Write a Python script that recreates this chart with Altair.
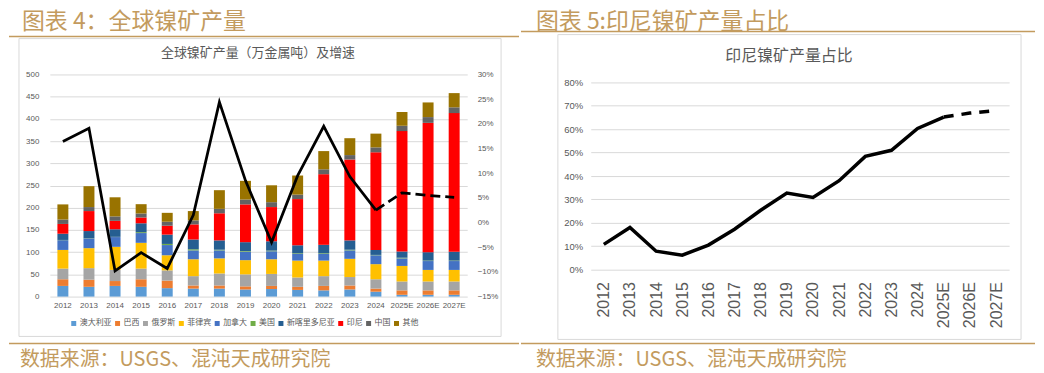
import altair as alt
import pandas as pd

years = ["2012", "2013", "2014", "2015", "2016", "2017", "2018", "2019",
         "2020", "2021", "2022", "2023", "2024", "2025E", "2026E", "2027E"]
countries = ["澳大利亚", "巴西", "俄罗斯", "菲律宾", "加拿大", "美国",
             "新喀里多尼亚", "印尼", "中国", "其他"]
colors = ["#5B9BD5", "#ED7D31", "#A5A5A5", "#FFC000", "#4472C4", "#70AD47",
          "#255E91", "#FF0000", "#636363", "#997300"]

australia = [24, 22, 24, 22, 19, 18, 18, 16, 17, 15, 14, 16, 11, 4, 4, 4]
brazil = [15, 16, 11, 17, 17, 7, 7, 7, 7, 7, 10, 9, 7, 10, 10, 10]
russia = [24, 26, 25, 24, 23, 21, 27, 27, 27, 21, 22, 19, 21, 20, 20, 20]
philippines = [42, 45, 52, 58, 34, 38, 34, 32, 33, 38, 35, 41, 34, 35, 26, 26]
canada = [22, 22, 22, 22, 23, 20, 18, 19, 18, 15, 15, 19, 20, 17, 20, 20]
usa = [0.5, 0.5, 0.5, 2, 2.5, 2.5, 1.5, 1.5, 1.5, 1.5, 1.5, 1.5, 0.8, 1.5, 1, 1]
new_caledonia = [14, 16, 17, 20, 21, 22, 21, 20, 21, 18, 19, 21, 11, 14, 19, 20]
indonesia = [22, 45, 19, 13, 20, 34, 61, 85, 77, 104, 159, 182, 220, 271, 291, 312]
china = [10, 9, 10, 9, 9, 9, 10, 11, 11, 10, 11, 10, 11, 12, 13, 13]
others = [34, 47, 43, 21, 20, 21, 42, 42, 38, 43, 41, 38, 31, 31, 33, 32]

growth_pct = [16.4, 19.1, -9.8, -6.1, -9.3, 1.5, 24.4, 8.5, -4.0, 9.5, 19.5,
              9.3, 2.5, 6.0, 5.5, 5.1]
share_pct = [10.8, 18.0, 7.9, 6.2, 10.5, 17.3, 25.4, 32.7, 30.9, 38.0, 48.4,
             51.0, 60.3, 65.2, 66.9, 68.0]

growth_ticks = [-15, -10, -5, 0, 5, 10, 15, 20, 25, 30]
left_ticks = [0, 50, 100, 150, 200, 250, 300, 350, 400, 450, 500]
share_ticks = [0, 10, 20, 30, 40, 50, 60, 70, 80]

heading_left = "图表 4：全球镍矿产量"
heading_right = "图表 5:印尼镍矿产量占比"
inner_left = "全球镍矿产量（万金属吨）及增速"
inner_right = "印尼镍矿产量占比"
source = "数据来源：USGS、混沌天成研究院"

series = [australia, brazil, russia, philippines, canada, usa,
          new_caledonia, indonesia, china, others]
rows = []
for ci, (c, vals) in enumerate(zip(countries, series)):
    for y, v in zip(years, vals):
        rows.append({"year": y, "country": c, "value": v, "idx": ci})
bar_df = pd.DataFrame(rows)

growth_df = pd.DataFrame({"year": years, "growth": [g / 100 for g in growth_pct]})
g_solid = growth_df.iloc[:13]
g_dash = growth_df.iloc[12:]

share_df = pd.DataFrame({"year": years, "share": [s / 100 for s in share_pct]})
s_solid = share_df.iloc[:14]
s_dash = share_df.iloc[13:]

GOLD = "#C39B5E"
GRID = "#D9D9D9"
LABEL = "#595959"
CJK = "Noto Sans CJK SC"
LAT = "Liberation Sans"

one = alt.Data(values=[{"a": 1}])


def rect(x1, x2, y1, y2, **kw):
    return alt.Chart(one).mark_rect(**kw).encode(
        x=alt.value(x1), x2=alt.value(x2), y=alt.value(y1), y2=alt.value(y2))


def hrule(x1, x2, y, color, width):
    return alt.Chart(one).mark_rule(color=color, strokeWidth=width).encode(
        x=alt.value(x1), x2=alt.value(x2), y=alt.value(y))


def label(txt, x, y, size, color, align="left", baseline="top"):
    return alt.Chart(one).mark_text(
        text=txt, font=CJK, fontSize=size, color=color, align=align,
        baseline=baseline).encode(x=alt.value(x), y=alt.value(y))


# ---------------- left panel (plot origin at page 49,74) ----------------
xl = alt.X("year:N", sort=years,
           scale=alt.Scale(paddingInner=0.58, paddingOuter=0.29),
           axis=alt.Axis(title=None, labelAngle=0, ticks=False, domain=False,
                         labelFontSize=8, labelColor=LABEL, labelFont=LAT,
                         labelPadding=5))

bars = alt.Chart(bar_df).mark_bar().encode(
    x=xl,
    y=alt.Y("value:Q", stack="zero",
            scale=alt.Scale(domain=[0, 500], nice=False),
            axis=alt.Axis(values=left_ticks, title=None, grid=True,
                          gridColor=GRID, domain=False, ticks=False,
                          labelPadding=11, labelFontSize=8, labelColor=LABEL,
                          labelFont=LAT, labelOverlap=False)),
    color=alt.Color("country:N", scale=alt.Scale(domain=countries, range=colors),
                    title=None,
                    legend=alt.Legend(orient="none", legendX=20, legendY=246,
                                      direction="horizontal", columns=10,
                                      symbolType="square", symbolSize=25,
                                      symbolStrokeWidth=0,
                                      labelFontSize=8, labelFont=CJK,
                                      labelColor=LABEL, columnPadding=2,
                                      labelOffset=2, padding=0)),
    order=alt.Order("idx:Q", sort="ascending"),
)

gscale = alt.Scale(domain=[-0.15, 0.30], nice=False)
line_solid = alt.Chart(g_solid).mark_line(color="black", strokeWidth=2.75).encode(
    x=alt.X("year:N", sort=years),
    y=alt.Y("growth:Q", scale=gscale,
            axis=alt.Axis(orient="right", values=[t / 100 for t in growth_ticks],
                          format=".0%", title=None, grid=False, domain=False,
                          ticks=False, labelPadding=10, labelFontSize=8,
                          labelColor=LABEL, labelFont=LAT, labelOverlap=False)),
)
line_dash = alt.Chart(g_dash).mark_line(color="black", strokeWidth=2.75,
                                        strokeDash=[10, 5]).encode(
    x=alt.X("year:N", sort=years),
    y=alt.Y("growth:Q", scale=gscale, axis=None),
)

left = alt.layer(
    rect(-41, 471, -66, 298, opacity=0),
    rect(-31, 453, -36, 263, fillOpacity=0, stroke=GRID, strokeWidth=1),
    hrule(-41, 471, -38, GOLD, 1.5),
    hrule(-41, 471, 270, GOLD, 1.5),
    label(heading_left, -28, -64, 23, GOLD),
    label(inner_left, 209, -22, 13, LABEL, align="center", baseline="middle"),
    label(source, -30, 293, 20, GOLD, baseline="alphabetic"),
    bars, line_solid, line_dash,
).resolve_scale(y="independent").properties(width=419, height=223)

# ---------------- right panel (plot origin at page 590,74) ----------------
xr_axis = alt.Axis(title=None, labelAngle=270, ticks=False, domain=False,
                   labelFontSize=16, labelColor=LABEL, labelFont=LAT,
                   labelPadding=12, labelOverlap=False)
yr_axis = alt.Axis(values=[t / 100 for t in share_ticks], format=".0%",
                   title=None, grid=True, gridColor=GRID, domain=False,
                   ticks=False, labelPadding=8, labelFontSize=9.5,
                   labelColor=LABEL, labelFont=LAT, labelOverlap=False)
xr_scale = alt.Scale(type="point", padding=0.5)
sscale = alt.Scale(domain=[0, 0.834], nice=False)
share_solid = alt.Chart(s_solid).mark_line(color="black", strokeWidth=3.5).encode(
    x=alt.X("year:O", sort=years, scale=xr_scale, axis=xr_axis),
    y=alt.Y("share:Q", scale=sscale, axis=yr_axis),
)
share_dash = alt.Chart(s_dash).mark_line(color="black", strokeWidth=3.5,
                                         strokeDash=[10, 8]).encode(
    x=alt.X("year:O", sort=years, scale=xr_scale, axis=xr_axis),
    y=alt.Y("share:Q", scale=sscale, axis=yr_axis),
)

right = alt.layer(
    rect(-70, 446, -66, 298, opacity=0),
    rect(-33, 432, -40, 266, fillOpacity=0, stroke=GRID, strokeWidth=1),
    hrule(-70, 446, -43, GOLD, 1.5),
    hrule(-70, 446, 270, GOLD, 1.5),
    label(heading_right, -55, -64, 23, GOLD),
    label(inner_right, 199, -19, 16, LABEL, align="center", baseline="middle"),
    label(source, -55, 293, 20, GOLD, baseline="alphabetic"),
    share_solid, share_dash,
).properties(width=420, height=196)

chart = alt.hconcat(left, right, spacing=0).properties(padding=0).configure_view(
    strokeWidth=0)

chart.save("out.html", embed_options={"renderer": "svg", "actions": False})
